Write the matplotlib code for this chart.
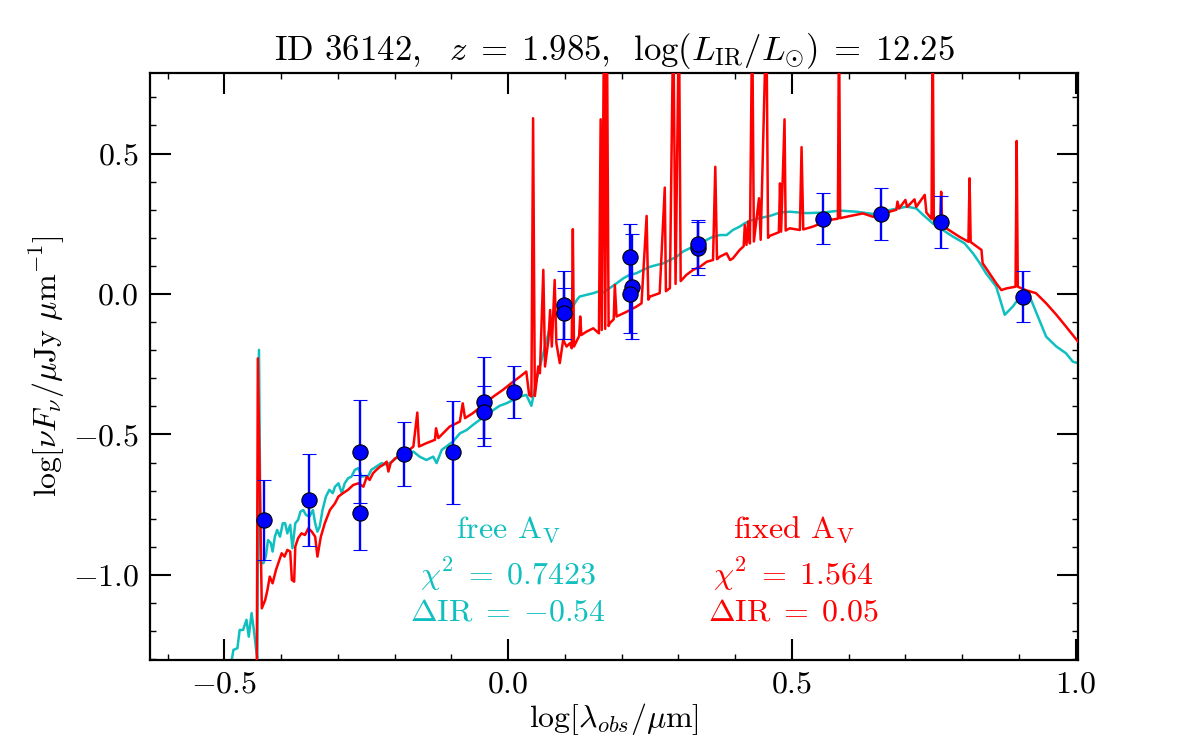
import matplotlib
matplotlib.use("Agg")
import matplotlib.pyplot as plt
from matplotlib.ticker import MultipleLocator

plt.rcParams['font.family'] = 'serif'
plt.rcParams['font.serif'] = ['cmr10', 'DejaVu Serif']
plt.rcParams['mathtext.fontset'] = 'cm'
plt.rcParams['axes.formatter.use_mathtext'] = True
plt.rcParams['axes.unicode_minus'] = True

# ---------------- data ----------------
# photometry
phot_x = [-0.431, -0.350, -0.261, -0.261, -0.184, -0.098, -0.042, -0.042, 0.010, 0.099,
          0.099, 0.214, 0.219, 0.214, 0.335, 0.335, 0.554, 0.657, 0.763, 0.907]
phot_y = [-0.804, -0.733, -0.561, -0.778, -0.569, -0.563, -0.383, -0.421, -0.349, -0.039,
          -0.068, 0.133, 0.026, -0.001, 0.163, 0.178, 0.268, 0.284, 0.257, -0.009]
phot_err = [0.143, 0.163, 0.184, 0.134, 0.115, 0.183, 0.158, 0.092, 0.091, 0.121,
            0.091, 0.116, 0.186, 0.139, 0.095, 0.085, 0.091, 0.092, 0.092, 0.091]

# free A_V model (cyan)
cyan_x = [-0.495, -0.487, -0.484, -0.477, -0.473, -0.467, -0.461, -0.457, -0.452, -0.448,
          -0.444, -0.442, -0.439, -0.436, -0.431, -0.427, -0.423, -0.418, -0.415, -0.411,
          -0.407, -0.402, -0.397, -0.393, -0.389, -0.384, -0.380, -0.375, -0.370, -0.366,
          -0.361, -0.356, -0.350, -0.344, -0.340, -0.336, -0.332, -0.327, -0.321, -0.315,
          -0.309, -0.305, -0.299, -0.293, -0.288, -0.282, -0.276, -0.270, -0.264, -0.258,
          -0.252, -0.247, -0.241, -0.232, -0.223, -0.214, -0.205, -0.194, -0.191, -0.179,
          -0.167, -0.156, -0.144, -0.132, -0.126, -0.117, -0.109, -0.097, -0.085, -0.073,
          -0.062, -0.050, -0.038, -0.026, -0.015, -0.003, 0.009, 0.021, 0.032, 0.041,
          0.050, 0.056, 0.068, 0.074, 0.079, 0.091, 0.103, 0.112, 0.121, 0.126,
          0.138, 0.150, 0.159, 0.167, 0.179, 0.191, 0.203, 0.214, 0.226, 0.238,
          0.250, 0.261, 0.273, 0.285, 0.297, 0.308, 0.320, 0.338, 0.350, 0.361,
          0.373, 0.385, 0.396, 0.408, 0.417, 0.426, 0.443, 0.461, 0.479, 0.496,
          0.526, 0.554, 0.584, 0.614, 0.643, 0.672, 0.702, 0.719, 0.731, 0.748,
          0.766, 0.784, 0.804, 0.819, 0.831, 0.842, 0.860, 0.875, 0.889, 0.907,
          0.919, 0.931, 0.948, 0.966, 0.983, 0.995, 1.004]
cyan_y = [-1.400, -1.303, -1.267, -1.261, -1.196, -1.196, -1.160, -1.220, -1.136, -1.196,
          -1.267, -1.296, -0.199, -0.958, -0.958, -0.935, -0.876, -0.887, -0.917, -0.864,
          -0.840, -0.864, -0.816, -0.816, -0.852, -0.822, -0.905, -0.816, -0.804, -0.775,
          -0.769, -0.787, -0.792, -0.769, -0.816, -0.846, -0.828, -0.769, -0.721, -0.697,
          -0.709, -0.686, -0.674, -0.709, -0.674, -0.656, -0.650, -0.626, -0.620, -0.650,
          -0.648, -0.650, -0.626, -0.614, -0.602, -0.608, -0.597, -0.579, -0.573, -0.567,
          -0.561, -0.579, -0.591, -0.579, -0.602, -0.555, -0.543, -0.525, -0.496, -0.484,
          -0.466, -0.448, -0.430, -0.413, -0.398, -0.389, -0.377, -0.365, -0.359, -0.398,
          -0.306, -0.258, -0.163, -0.116, -0.080, -0.063, -0.068, -0.051, -0.021, -0.009,
          -0.003, 0.003, 0.009, 0.005, 0.021, 0.038, 0.056, 0.068, 0.074, 0.086,
          0.097, 0.103, 0.109, 0.121, 0.133, 0.151, 0.163, 0.175, 0.193, 0.204,
          0.210, 0.210, 0.228, 0.240, 0.252, 0.261, 0.270, 0.278, 0.290, 0.293,
          0.288, 0.290, 0.297, 0.293, 0.285, 0.299, 0.311, 0.305, 0.282, 0.252,
          0.228, 0.204, 0.181, 0.145, 0.110, 0.074, 0.026, -0.074, -0.045, 0.003,
          -0.009, -0.068, -0.152, -0.187, -0.211, -0.241, -0.246]

# fixed A_V model (red)
red_x = [-0.443, -0.441, -0.434, -0.428, -0.424, -0.420, -0.415, -0.409, -0.405, -0.399,
         -0.394, -0.389, -0.384, -0.381, -0.377, -0.375, -0.370, -0.364, -0.358, -0.352,
         -0.346, -0.340, -0.336, -0.330, -0.323, -0.314, -0.305, -0.299, -0.291, -0.282,
         -0.273, -0.264, -0.255, -0.249, -0.244, -0.238, -0.232, -0.226, -0.220, -0.214,
         -0.211, -0.207, -0.199, -0.191, -0.185, -0.167, -0.160, -0.157, -0.144, -0.129,
         -0.127, -0.123, -0.103, -0.085, -0.080, -0.076, -0.062, -0.044, -0.026, -0.009,
         0.009, 0.021, 0.032, 0.037, 0.041, 0.044, 0.047, 0.049, 0.053, 0.056,
         0.062, 0.065, 0.071, 0.074, 0.077, 0.082, 0.085, 0.091, 0.097, 0.103,
         0.109, 0.112, 0.114, 0.116, 0.125, 0.127, 0.129, 0.138, 0.150, 0.160,
         0.163, 0.165, 0.169, 0.171, 0.174, 0.177, 0.179, 0.186, 0.188, 0.191,
         0.209, 0.226, 0.235, 0.244, 0.247, 0.250, 0.267, 0.276, 0.278, 0.285,
         0.291, 0.295, 0.301, 0.304, 0.314, 0.326, 0.338, 0.350, 0.361, 0.365,
         0.368, 0.373, 0.385, 0.391, 0.396, 0.408, 0.415, 0.417, 0.420, 0.423,
         0.426, 0.430, 0.433, 0.442, 0.445, 0.455, 0.458, 0.461, 0.477, 0.479,
         0.481, 0.487, 0.489, 0.496, 0.514, 0.517, 0.520, 0.537, 0.567, 0.581,
         0.583, 0.585, 0.596, 0.625, 0.643, 0.654, 0.672, 0.684, 0.686, 0.689,
         0.700, 0.703, 0.716, 0.719, 0.734, 0.737, 0.746, 0.748, 0.750, 0.761,
         0.763, 0.765, 0.772, 0.795, 0.811, 0.813, 0.815, 0.834, 0.836, 0.848,
         0.860, 0.869, 0.878, 0.894, 0.896, 0.898, 0.912, 0.930, 0.948, 0.966,
         0.983, 1.004]
red_y = [-1.450, -0.229, -1.119, -1.089, -1.053, -1.006, -1.030, -0.982, -0.958, -0.923,
         -0.935, -0.911, -0.917, -1.018, -1.024, -0.899, -0.869, -0.852, -0.858, -0.834,
         -0.846, -0.864, -0.935, -0.864, -0.816, -0.769, -0.745, -0.721, -0.709, -0.697,
         -0.680, -0.674, -0.686, -0.650, -0.662, -0.638, -0.626, -0.615, -0.608, -0.597,
         -0.632, -0.602, -0.585, -0.576, -0.573, -0.543, -0.422, -0.543, -0.531, -0.519,
         -0.478, -0.513, -0.472, -0.454, -0.389, -0.442, -0.424, -0.395, -0.365, -0.341,
         -0.312, -0.294, -0.276, -0.359, -0.365, 0.626, -0.363, -0.330, -0.258, -0.282,
         0.086, -0.258, -0.163, -0.057, -0.187, 0.050, -0.175, -0.246, -0.163, -0.187,
         -0.175, -0.193, 0.231, -0.187, -0.150, -0.080, -0.146, -0.134, -0.122, -0.140,
         0.622, -0.128, 1.0, -0.124, 1.0, -0.114, -0.104, -0.090, 0.032, -0.080,
         -0.063, -0.045, -0.033, 0.278, -0.020, -0.009, 0.003, 0.379, 0.010, 0.021,
         1.0, 0.036, 1.0, 0.046, 0.068, 0.086, 0.097, 0.115, 0.121, 0.453,
         0.124, 0.133, 0.145, 0.121, 0.127, 0.157, 0.170, 0.246, 0.175, 0.258,
         0.180, 1.0, 0.187, 0.341, 0.193, 1.0, 0.200, 0.207, 0.220, 0.394,
         0.222, 0.622, 0.226, 0.234, 0.228, 0.523, 0.230, 0.240, 0.264, 0.268,
         1.0, 0.270, 0.275, 0.287, 0.275, 0.285, 0.293, 0.300, 0.329, 0.305,
         0.335, 0.310, 0.337, 0.310, 0.353, 0.290, 0.268, 1.0, 0.262, 0.240,
         0.364, 0.236, 0.234, 0.204, 0.186, 0.412, 0.185, 0.157, 0.110, 0.074,
         0.038, 0.014, 0.020, 0.026, 0.545, 0.026, 0.014, 0.003, -0.033, -0.074,
         -0.116, -0.169]

title_text = r"ID 36142, $\;\; z\;=\;1.985,\;\; \log(L_{\rm IR}/L_{\odot})\;=\;12.25$"
free_lines = [r"free $\rm A_V$", r"$\chi^2\;=\;0.7423$", r"$\Delta{\rm IR}\;=\;{-0.54}$"]
fixed_lines = [r"fixed $\rm A_V$", r"$\chi^2\;=\;1.564$", r"$\Delta{\rm IR}\;=\;0.05$"]
text_y = [-0.868, -1.034, -1.163]
free_x, fixed_x = 0.0, 0.503

# ---------------- figure ----------------
FS = 23
fig = plt.figure(figsize=(12, 7.5), dpi=100)
ax = fig.add_axes([0.125, 0.12, 0.7733, 0.7827])

ax.plot(cyan_x, cyan_y, color='#10bfbf', lw=1.8, zorder=2)
ax.plot(red_x, red_y, color='#ff0000', lw=1.8, zorder=3)
ax.errorbar(phot_x, phot_y, yerr=phot_err, fmt='o', color='#0000ff', ecolor='#0000ff',
            mec='black', mew=0.8, ms=11, elinewidth=1.7, capsize=5, capthick=1.5, zorder=5)

for s, yy in zip(free_lines, text_y):
    ax.text(free_x, yy, s, color='#10bfbf', fontsize=FS, ha='center', va='baseline')
for s, yy in zip(fixed_lines, text_y):
    ax.text(fixed_x, yy, s, color='#ff0000', fontsize=FS, ha='center', va='baseline')

ax.set_xlim(-0.631, 1.004)
ax.set_ylim(-1.303, 0.787)
ax.xaxis.set_major_locator(MultipleLocator(0.5))
ax.xaxis.set_minor_locator(MultipleLocator(0.1))
ax.yaxis.set_major_locator(MultipleLocator(0.5))
ax.yaxis.set_minor_locator(MultipleLocator(0.1))
ax.tick_params(which='both', direction='in', top=True, right=True, labelsize=FS)
ax.tick_params(which='major', length=15, width=1.5, pad=8)
ax.tick_params(which='minor', length=4.5, width=1.0)
for sp in ax.spines.values():
    sp.set_linewidth(1.6)

ax.set_xlabel(r"$\log[\lambda_{obs}/\mu{\rm m}]$", fontsize=FS, labelpad=2)
ax.set_ylabel(r"$\log[\nu F_{\nu}/\mu{\rm Jy}\ \mu{\rm m}^{-1}]$", fontsize=FS, labelpad=4)
ax.set_title(title_text, fontsize=25, pad=9)

fig.savefig("out.png", dpi=100)
